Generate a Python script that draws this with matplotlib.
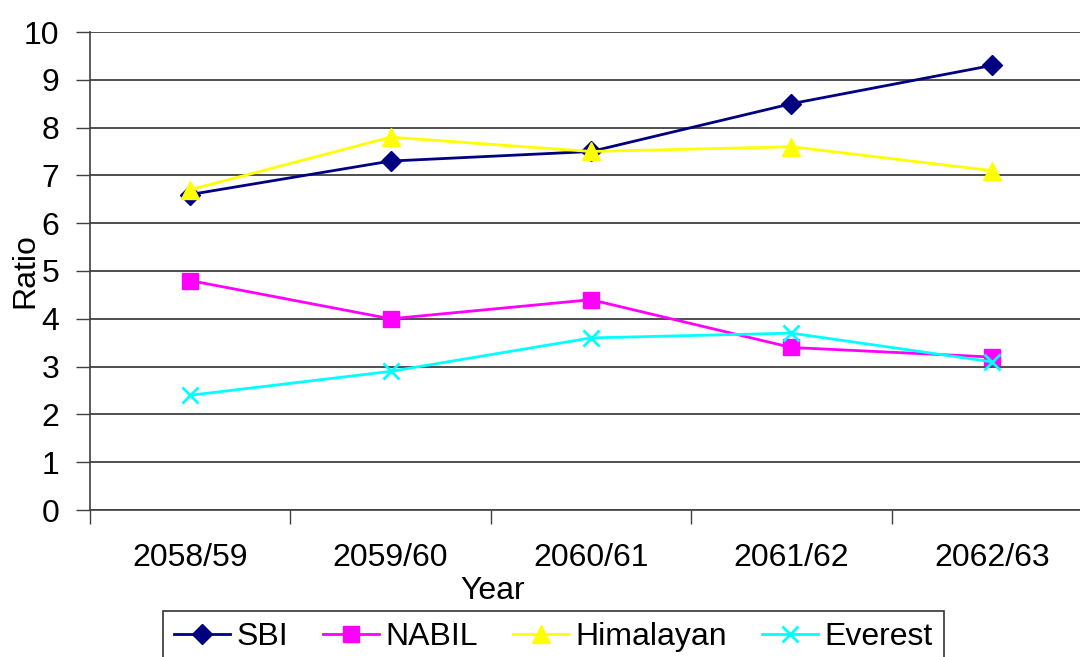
import matplotlib.pyplot as plt
from matplotlib.ticker import FixedLocator

plt.rcParams['font.family'] = ['Liberation Sans', 'DejaVu Sans']

years = ['2058/59', '2059/60', '2060/61', '2061/62', '2062/63']
sbi = [6.6, 7.3, 7.5, 8.5, 9.3]
nabil = [4.8, 4.0, 4.4, 3.4, 3.2]
himalayan = [6.7, 7.8, 7.5, 7.6, 7.1]
everest = [2.4, 2.9, 3.6, 3.7, 3.1]

fs = 23

fig = plt.figure(figsize=(10.8, 6.57), dpi=100)
# plot area runs a little past the right edge, like the source picture
ax = fig.add_axes([90 / 1080, 147 / 657, 1002 / 1080, 478 / 657])

x = range(len(years))
ax.plot(x, sbi, color='#000080', lw=2, marker='D', ms=10, label='SBI')
ax.plot(x, nabil, color='#FF00FF', lw=2, marker='s', ms=11, label='NABIL')
ax.plot(x, himalayan, color='#FFFF00', lw=2, marker='^', ms=13, label='Himalayan')
ax.plot(x, everest, color='#00FFFF', lw=2, marker='x', ms=12, mew=2, label='Everest')

ax.set_xlim(-0.5, len(years) - 0.5)
ax.set_ylim(0, 10)
ax.set_yticks(range(0, 11))
ax.yaxis.grid(True, color='#303030', lw=1.2)
ax.set_axisbelow(True)

ax.set_xticks(list(x))
ax.set_xticklabels(years)
ax.xaxis.set_minor_locator(FixedLocator([i - 0.5 for i in range(len(years) + 1)]))
ax.tick_params(axis='x', which='major', length=0, pad=24, labelsize=fs)
ax.tick_params(axis='x', which='minor', length=10, width=1, color='#404040')
ax.tick_params(axis='y', length=10, width=1, color='#404040', labelsize=fs, pad=12)

for s in ['top', 'right']:
    ax.spines[s].set_visible(False)
ax.spines['left'].set_color('#404040')
ax.spines['bottom'].set_color('#404040')
ax.spines['left'].set_linewidth(1.2)
ax.spines['bottom'].set_linewidth(1.2)

ax.set_xlabel('Year', fontsize=fs)
ax.xaxis.label.set_va('center')
ax.xaxis.set_label_coords((493 - 90) / 1002, (510 - 591) / 478)
ax.set_ylabel('Ratio', fontsize=fs)
ax.yaxis.label.set_va('center')
ax.yaxis.set_label_coords((25 - 90) / 1002, 0.5)

leg = fig.legend(loc='upper left', bbox_to_anchor=(163 / 1080, 1 - 611 / 657),
                 ncol=4, fontsize=fs, frameon=True, fancybox=False,
                 edgecolor='black', handlelength=1.75, columnspacing=1.1,
                 handletextpad=0.2, borderpad=0.35, borderaxespad=0)
leg.get_frame().set_linewidth(1.2)

fig.savefig('out.png', dpi=100)
